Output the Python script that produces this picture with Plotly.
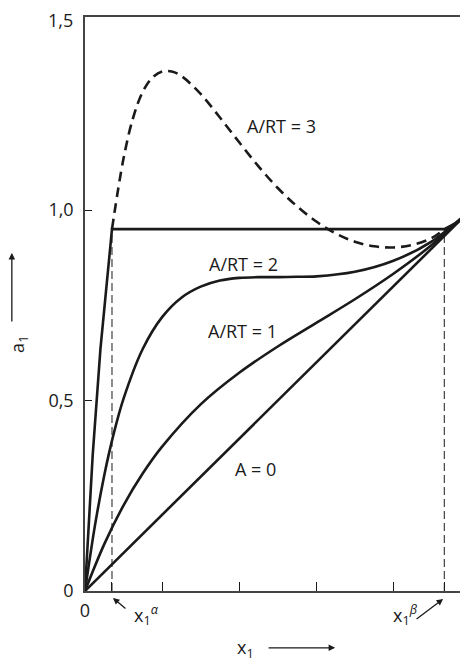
import plotly.graph_objects as go

# ---- data ----
x_a0 = [0.0, 1.0]
a_a0 = [0.0, 1.0]

x_a1 = [0.0, 0.05, 0.1, 0.15, 0.2, 0.3, 0.4, 0.5, 0.6, 0.7, 0.8, 0.9, 1.0]
a_a1 = [0.0, 0.123, 0.225, 0.309, 0.379, 0.490, 0.573, 0.642, 0.704, 0.766, 0.833, 0.909, 1.0]

x_a2 = [0.0, 0.025, 0.05, 0.075, 0.1, 0.15, 0.2, 0.25, 0.3, 0.35, 0.4, 0.45, 0.5, 0.55, 0.6, 0.7, 0.8, 0.9, 1.0]
a_a2 = [0.0, 0.167, 0.304, 0.415, 0.505, 0.636, 0.719, 0.770, 0.799, 0.815, 0.822, 0.824, 0.824, 0.825, 0.826, 0.838, 0.867, 0.918, 1.0]

# A/RT = 3: stable (solid) branch with the tie line, and the unstable (dashed) loop
x_a3_solid = [0.0, 0.02, 0.04, 0.055, 0.07, 0.932, 0.965, 1.0]
a_a3_solid = [0.0, 0.357, 0.635, 0.801, 0.95, 0.95, 0.968, 1.0]

x_a3_dash = [0.07, 0.1, 0.125, 0.15, 0.175, 0.2, 0.225, 0.25, 0.3, 0.35, 0.4, 0.45, 0.5,
             0.55, 0.6, 0.65, 0.7, 0.75, 0.8, 0.85, 0.9, 0.932]
a_a3_dash = [0.95, 1.136, 1.243, 1.311, 1.348, 1.364, 1.364, 1.352, 1.305, 1.243, 1.178, 1.115, 1.058,
             1.010, 0.970, 0.939, 0.917, 0.905, 0.902, 0.909, 0.927, 0.95]

x_alpha = 0.07
x_beta = 0.932
a_tie = 0.95

y_ticks = [0, 0.5, 1.0]
y_tick_text = ["0", "0,5", "1,0"]
y_top_value = 1.5
y_top_text = "1,5"
x_ticks = [0, x_alpha, 0.2, 0.4, 0.6, 0.8, x_beta]
x_tick_text = ["0", "", "", "", "", "", ""]

curve_labels = [
    ("A/RT = 3", 0.510, 1.220),
    ("A/RT = 2", 0.411, 0.859),
    ("A/RT = 1", 0.408, 0.683),
    ("A = 0", 0.441, 0.320),
]

FONT = "Open Sans"
INK = "#1a1a1a"
Y_MAX = 1.507

fig = go.Figure()

line = dict(color=INK, width=2.6)
fig.add_trace(go.Scatter(x=x_a0, y=a_a0, mode="lines", line=line, hoverinfo="skip"))
fig.add_trace(go.Scatter(x=x_a1, y=a_a1, mode="lines", line=dict(line, shape="spline", smoothing=1.0), hoverinfo="skip"))
fig.add_trace(go.Scatter(x=x_a2, y=a_a2, mode="lines", line=dict(line, shape="spline", smoothing=0.8), hoverinfo="skip"))
fig.add_trace(go.Scatter(x=x_a3_solid, y=a_a3_solid, mode="lines", line=line, hoverinfo="skip"))
fig.add_trace(go.Scatter(x=x_a3_dash, y=a_a3_dash, mode="lines",
                         line=dict(color=INK, width=2.6, dash="10px,6px", shape="spline", smoothing=1.0),
                         hoverinfo="skip"))

# vertical dashed guide lines at the coexisting compositions
for xv in (x_alpha, x_beta):
    fig.add_trace(go.Scatter(x=[xv, xv], y=[0, a_tie], mode="lines",
                             line=dict(color=INK, width=1, dash="8px,4px"), hoverinfo="skip"))

ann = []
for txt, xx, yy in curve_labels:
    ann.append(dict(x=xx, y=yy, xref="x", yref="y", text=txt, showarrow=False,
                    font=dict(family=FONT, size=18, color=INK), xanchor="center", yanchor="middle"))

lab_font = dict(family=FONT, size=18, color=INK)
arrow = dict(text="", showarrow=True, arrowhead=2, arrowsize=1, arrowwidth=1.3, arrowcolor=INK,
             xref="paper", yref="paper")

# top y tick label (drawn as text so it is not dropped at the figure edge)
ann.append(dict(x=-0.026, y=y_top_value / Y_MAX, xref="paper", yref="paper", text=y_top_text,
                showarrow=False, font=lab_font, xanchor="right", yanchor="middle"))

# x1^alpha and x1^beta labels with arrows
ann.append(dict(arrow, x=0.073, y=-0.012, ax=14, ay=12))
ann.append(dict(x=0.160, y=-0.042, xref="paper", yref="paper", text="x<sub>1</sub><sup><i>α</i></sup>",
                showarrow=False, font=lab_font, xanchor="center", yanchor="middle"))
ann.append(dict(arrow, x=0.935, y=-0.014, ax=-28, ay=21))
ann.append(dict(x=0.836, y=-0.042, xref="paper", yref="paper", text="x<sub>1</sub><sup><i>β</i></sup>",
                showarrow=False, font=lab_font, xanchor="center", yanchor="middle"))
ann.append(dict(x=1.006, y=-0.043, xref="paper", yref="paper", text="1", showarrow=False,
                font=lab_font, xanchor="center", yanchor="middle"))

# axis titles with arrows
ann.append(dict(x=0.420, y=-0.101, xref="paper", yref="paper", text="x<sub>1</sub>", showarrow=False,
                font=lab_font, xanchor="center", yanchor="middle"))
ann.append(dict(arrow, x=0.653, y=-0.099, ax=-68, ay=0))
ann.append(dict(x=-0.172, y=0.429, xref="paper", yref="paper", text="a<sub>1</sub>", showarrow=False,
                textangle=-90, font=lab_font, xanchor="center", yanchor="middle"))
ann.append(dict(arrow, x=-0.191, y=0.589, ax=0, ay=70))

# the page body adds an 8px offset, so margins are shifted to keep the plot area in place
fig.update_layout(
    width=468, height=661,
    margin=dict(l=77, r=8, t=9, b=78),
    paper_bgcolor="white", plot_bgcolor="white",
    showlegend=False,
    font=dict(family=FONT, size=18, color=INK),
    annotations=ann,
    xaxis=dict(range=[0, 0.9935], tickvals=x_ticks, ticktext=x_tick_text, ticks="inside", ticklen=9,
               tickcolor=INK, tickwidth=1.2, showline=True, linecolor="#444", linewidth=1.5, mirror=True,
               showgrid=False, zeroline=False, ticklabelstandoff=3, automargin=False,
               tickfont=dict(family=FONT, size=18, color=INK)),
    yaxis=dict(range=[0, Y_MAX], tickvals=y_ticks, ticktext=y_tick_text, ticks="inside", ticklen=7,
               tickcolor=INK, tickwidth=1.2, showline=True, linecolor="#444", linewidth=1.5, mirror=False,
               showgrid=False, zeroline=False, ticklabelstandoff=6, automargin=False,
               tickfont=dict(family=FONT, size=18, color=INK)),
)

fig.write_html("out.html")
